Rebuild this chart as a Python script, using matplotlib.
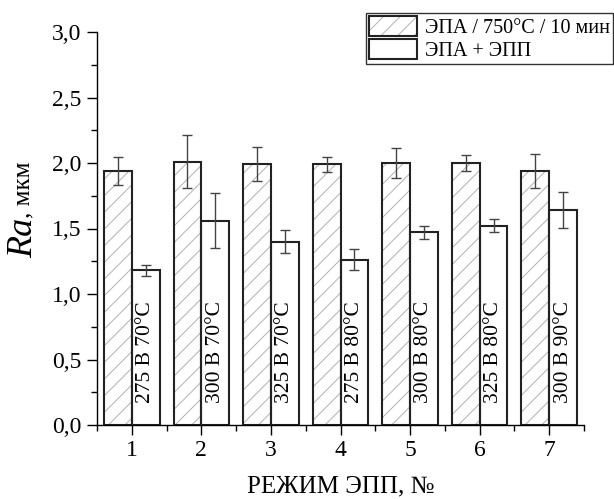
import matplotlib
matplotlib.use("Agg")
import matplotlib.pyplot as plt
import numpy as np
from matplotlib.ticker import MultipleLocator, FuncFormatter
from matplotlib.legend_handler import HandlerTuple

plt.rcParams['font.family'] = ['Liberation Serif', 'DejaVu Serif']
plt.rcParams['hatch.linewidth'] = 0.7

modes = [1, 2, 3, 4, 5, 6, 7]
epa = [1.94, 2.01, 1.99, 1.99, 2.00, 2.00, 1.94]
epa_err = [0.105, 0.20, 0.13, 0.055, 0.115, 0.06, 0.13]
epp = [1.18, 1.56, 1.40, 1.26, 1.47, 1.52, 1.64]
epp_err = [0.045, 0.21, 0.085, 0.08, 0.05, 0.05, 0.135]
regimes = ["275 В 70°C", "300 В 70°C", "325 В 70°C", "275 В 80°C",
           "300 В 80°C", "325 В 80°C", "300 В 90°C"]
legend_labels = ["ЭПА / 750°C / 10 мин", "ЭПА + ЭПП"]

fig = plt.figure(figsize=(6.14, 4.99), dpi=100)
ax = fig.add_axes([97/614, 74/499, 487/614, 393/499])

x = np.array(modes, dtype=float)
w = 0.4
hatch_col = '#b0b0b0'
b1h = ax.bar(x - w/2, epa, width=w, facecolor='white', edgecolor=hatch_col,
             linewidth=0, hatch='//', zorder=2)
b1 = ax.bar(x - w/2, epa, width=w, facecolor='none', edgecolor='#222222',
            linewidth=1.5, zorder=2.1)
b2 = ax.bar(x + w/2, epp, width=w, facecolor='white', edgecolor='#222222',
            linewidth=1.5, zorder=2)
ax.errorbar(x - w/2, epa, yerr=epa_err, fmt='none', ecolor='#444444',
            elinewidth=1.0, capsize=3.5, capthick=1.0, zorder=3)
ax.errorbar(x + w/2, epp, yerr=epp_err, fmt='none', ecolor='#444444',
            elinewidth=1.0, capsize=3.5, capthick=1.0, zorder=3)

for xi, t in zip(x, regimes):
    ax.text(xi + w/2, 0.17, t, rotation=90, ha='center', va='bottom',
            fontsize=15.5, zorder=4)

ax.set_xlim(0.5, 7.5)
ax.set_ylim(0, 3.0)
ax.set_xticks(modes)
ax.xaxis.set_minor_locator(MultipleLocator(0.5))
ax.yaxis.set_major_locator(MultipleLocator(0.5))
ax.yaxis.set_minor_locator(MultipleLocator(0.25))
ax.yaxis.set_major_formatter(FuncFormatter(lambda v, p: f"{v:.1f}".replace('.', ',')))
ax.tick_params(which='major', direction='out', length=7, width=1, labelsize=17, pad=4)
ax.tick_params(which='minor', direction='out', length=4, width=1)
for s in ['top', 'right']:
    ax.spines[s].set_visible(False)
for s in ['left', 'bottom']:
    ax.spines[s].set_linewidth(1.0)

ax.set_xlabel("РЕЖИМ ЭПП, №", fontsize=18, labelpad=10)

t1 = fig.text(24/614, 1 - 258/499, "Ra", rotation=90, fontsize=26,
              style='italic', ha='center', va='bottom')
fig.canvas.draw()
bb = t1.get_window_extent()
ytop = bb.y1 / fig.dpi / 4.99
fig.text(23/614, ytop, ", мкм", rotation=90, fontsize=18,
         ha='center', va='bottom')

leg = ax.legend([(b1h[0], b1[0]), b2[0]], legend_labels,
                handler_map={tuple: HandlerTuple(ndivide=1, pad=0)},
                loc='upper right', bbox_to_anchor=(613/614, 486/499),
                bbox_transform=fig.transFigure, fontsize=14.5, frameon=True,
                fancybox=False, framealpha=1, edgecolor='#333333',
                borderaxespad=0, handlelength=2.4, handleheight=1.15,
                labelspacing=0.05, borderpad=0.15, handletextpad=0.4)
leg.get_frame().set_linewidth(1.0)

fig.savefig("out.png", dpi=100)
